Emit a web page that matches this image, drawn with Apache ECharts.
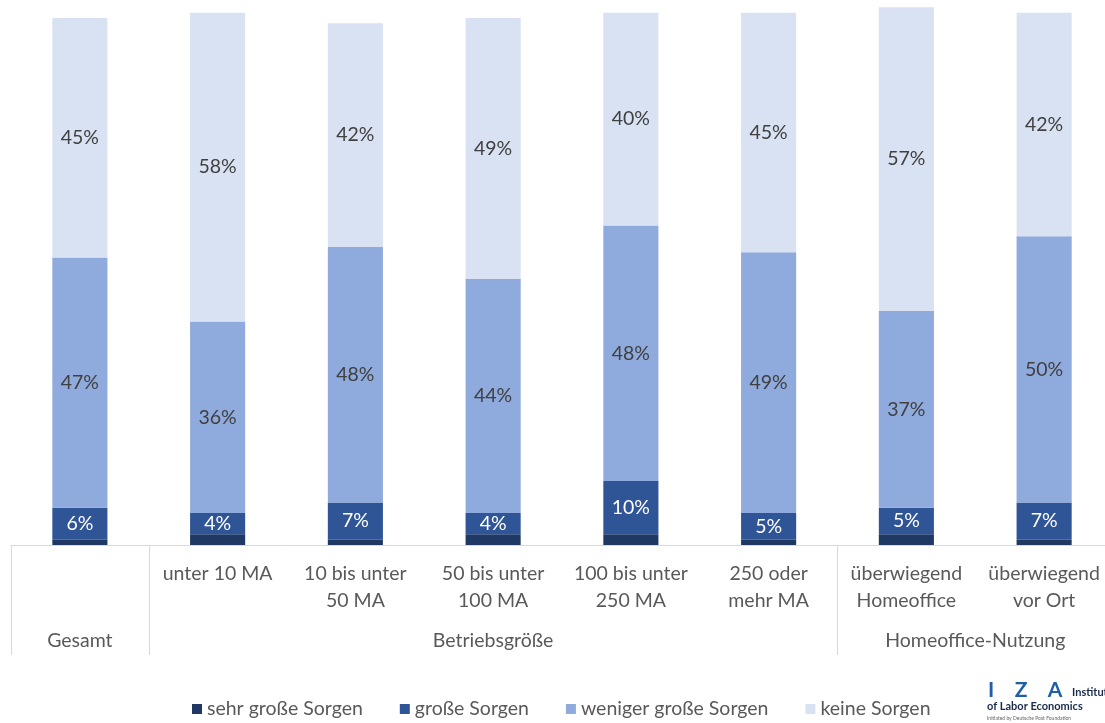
<!DOCTYPE html>
<html>
<head>
<meta charset="utf-8">
<script src="https://cdn.jsdelivr.net/npm/echarts@6/dist/echarts.min.js"></script>
<style>
  html, body { margin: 0; padding: 0; background: #fff; overflow: hidden; }
  #chart { width: 1113px; height: 723px; }
</style>
</head>
<body>
<div id="chart"></div>
<script>
'use strict';

// Kategorien (untere Ebene), Gruppen (obere Ebene)
var categories = ['', 'unter 10 MA', '10 bis unter\n50 MA', '50 bis unter\n100 MA',
  '100 bis unter\n250 MA', '250 oder\nmehr MA', 'überwiegend\nHomeoffice', 'überwiegend\nvor Ort'];
var groupNames = ['Gesamt', 'Betriebsgröße', 'Homeoffice-Nutzung'];
var groupSizes = [1, 5, 2];

var seriesNames = ['sehr große Sorgen', 'große Sorgen', 'weniger große Sorgen', 'keine Sorgen'];
var sehrGross = [1, 2, 1, 2, 2, 1, 2, 1];
var gross = [6, 4, 7, 4, 10, 5, 5, 7];
var wenigerGross = [47, 36, 48, 44, 48, 49, 37, 50];
var keine = [45, 58, 42, 49, 40, 45, 57, 42];

var colors = ['#1f3864', '#2f5597', '#8faadc', '#d9e2f3'];
var font = 'Lato, "Noto Sans", sans-serif';
var fontSize = 19.5;

// Gruppengrenzen und -mitten auf der Hilfsachse (0..n)
var bounds = [0];
var mids = [];
groupSizes.forEach(function(s){
  var start = bounds[bounds.length - 1];
  mids.push(start + s / 2);
  bounds.push(start + s);
});

var chart = echarts.init(document.getElementById('chart'));

function barSeries(name, data, idx, labelColor){
  return {
    name: name,
    type: 'bar',
    stack: 'total',
    barWidth: '40%',
    data: data,
    itemStyle: { color: colors[idx] },
    label: {
      show: !!labelColor,
      position: 'inside',
      formatter: '{c}%',
      color: labelColor,
      fontFamily: font,
      fontSize: fontSize
    },
    emphasis: { disabled: true }
  };
}

var option = {
  animation: false,
  color: colors,
  grid: { left: 11, right: 0, top: 2, bottom: 178 },
  legend: {
    left: 187,
    top: 694,
    itemWidth: 10,
    itemHeight: 10,
    itemGap: 37,
    icon: 'rect',
    textStyle: { color: '#595959', fontFamily: font, fontSize: fontSize },
    data: seriesNames
  },
  xAxis: [
    {
      type: 'category',
      data: categories,
      axisLine: { lineStyle: { color: '#d9d9d9', width: 1 } },
      axisTick: { show: false },
      axisLabel: {
        interval: 0,
        margin: 15,
        color: '#595959',
        fontFamily: font,
        fontSize: fontSize,
        lineHeight: 27,
        verticalAlign: 'top'
      }
    },
    {
      type: 'value',
      position: 'bottom',
      min: 0,
      max: categories.length,
      axisLine: { show: false },
      splitLine: { show: false },
      axisTick: {
        show: true,
        customValues: bounds,
        length: 110,
        lineStyle: { color: '#d9d9d9', width: 1 }
      },
      axisLabel: {
        customValues: mids,
        margin: 86,
        color: '#595959',
        fontFamily: font,
        fontSize: fontSize,
        verticalAlign: 'top',
        formatter: function(v){
          return groupNames[mids.indexOf(v)] || '';
        }
      }
    }
  ],
  yAxis: { type: 'value', min: 0, max: 102, show: false },
  series: [
    barSeries(seriesNames[0], sehrGross, 0, null),
    barSeries(seriesNames[1], gross, 1, '#ffffff'),
    barSeries(seriesNames[2], wenigerGross, 2, '#404040'),
    barSeries(seriesNames[3], keine, 3, '#404040')
  ],
  graphic: [
    {
      type: 'text', left: 988, top: 680,
      style: { text: 'I    Z    A', fill: '#1f5fa8', font: 'bold 21px ' + font }
    },
    {
      type: 'text', left: 1072, top: 687,
      style: { text: 'Institute', fill: '#1a2a4a', font: 'bold 11px ' + font }
    },
    {
      type: 'text', left: 987, top: 701,
      style: { text: 'of Labor Economics', fill: '#1a2a4a', font: 'bold 11px ' + font }
    },
    {
      type: 'text', left: 987, top: 716,
      style: { text: 'Initiated by Deutsche Post Foundation', fill: '#666666', font: '5px ' + font }
    }
  ]
};

chart.setOption(option);
</script>
</body>
</html>
